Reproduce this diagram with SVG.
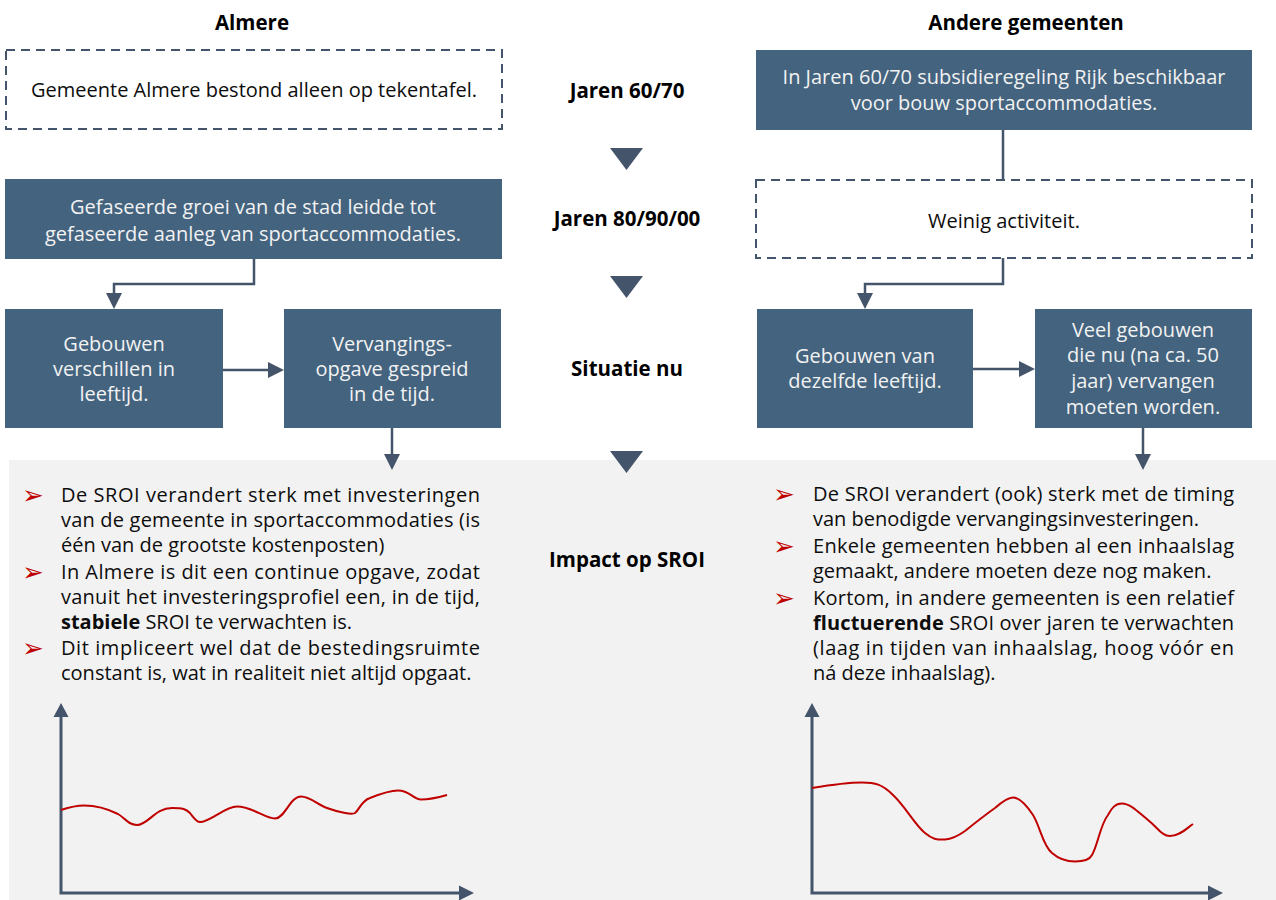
<svg xmlns="http://www.w3.org/2000/svg" width="1276" height="900" viewBox="0 0 1276 900">
<defs>
<style>
.t{font-family:"Open Sans","Noto Sans","DejaVu Sans",sans-serif;font-size:20px;fill:#0d0d0d}
.w{font-family:"Open Sans","Noto Sans","DejaVu Sans",sans-serif;font-size:20px;fill:#f2f2f2;text-anchor:middle}
.b{font-family:"Open Sans","Noto Sans","DejaVu Sans",sans-serif;font-size:20.5px;font-weight:bold;fill:#000;text-anchor:middle}
.m{text-anchor:middle}
.box{fill:#43637e}
.dash{fill:#fff;stroke:#44546a;stroke-width:2;stroke-dasharray:9 6}
.con{fill:none;stroke:#44546a;stroke-width:2.5}
.ah{fill:#44546a}
.bul{font-family:"DejaVu Sans",sans-serif;font-size:26px;fill:#c00000}
.ax{fill:none;stroke:#44546a;stroke-width:3}
.cv{fill:none;stroke:#c00000;stroke-width:2}
</style>
</defs>
<rect x="9" y="460" width="1267" height="440" fill="#f2f2f2"/>

<g id="headers">
<text class="b" x="252" y="30">Almere</text>
<text class="b" x="1026" y="30">Andere gemeenten</text>
<text class="b" x="627" y="98">Jaren 60/70</text>
<text class="b" x="627" y="226">Jaren 80/90/00</text>
<text class="b" x="627" y="376">Situatie nu</text>
<text class="b" x="627" y="567">Impact op SROI</text>
</g>

<g id="timeline-arrows">
<polygon class="ah" points="610,148 643,148 626.5,170"/>
<polygon class="ah" points="610,276 643,276 626.5,298"/>
<polygon class="ah" points="610,451 643,451 626.5,473"/>
</g>

<g id="almere-1960">
<rect class="dash" x="6" y="50" width="496" height="79"/>
<text class="t m" x="254" y="97">Gemeente Almere bestond alleen op tekentafel.</text>
</g>
<g id="andere-1960">
<rect class="box" x="756" y="50" width="496" height="80"/>
<text class="w" x="1004" y="84">In Jaren 60/70 subsidieregeling Rijk beschikbaar</text>
<text class="w" x="1004" y="110">voor bouw sportaccommodaties.</text>
</g>
<g id="almere-1980">
<rect class="box" x="5" y="179" width="497" height="80"/>
<text class="w" x="253" y="214">Gefaseerde groei van de stad leidde tot</text>
<text class="w" x="253" y="241">gefaseerde aanleg van sportaccommodaties.</text>
</g>
<g id="andere-1980">
<rect class="dash" x="756" y="180" width="496" height="78"/>
<text class="t m" x="1004" y="228">Weinig activiteit.</text>
</g>
<g id="almere-nu-1">
<rect class="box" x="5" y="309" width="218" height="119"/>
<text class="w" x="114" y="351">Gebouwen</text>
<text class="w" x="114" y="376">verschillen in</text>
<text class="w" x="114" y="401">leeftijd.</text>
</g>
<g id="almere-nu-2">
<rect class="box" x="284" y="309" width="217" height="119"/>
<text class="w" x="392" y="351">Vervangings-</text>
<text class="w" x="392" y="376">opgave gespreid</text>
<text class="w" x="392" y="401">in de tijd.</text>
</g>
<g id="andere-nu-1">
<rect class="box" x="757" y="309" width="216" height="119"/>
<text class="w" x="865" y="363">Gebouwen van</text>
<text class="w" x="865" y="388">dezelfde leeftijd.</text>
</g>
<g id="andere-nu-2">
<rect class="box" x="1035" y="309" width="217" height="119"/>
<text class="w" x="1143" y="337">Veel gebouwen</text>
<text class="w" x="1143" y="362">die nu (na ca. 50</text>
<text class="w" x="1143" y="388">jaar) vervangen</text>
<text class="w" x="1143" y="414">moeten worden.</text>
</g>

<g id="connectors">
<path class="con" d="M254,259 V284 H114 V295"/>
<polygon class="ah" points="106,293 122,293 114,309"/>
<path class="con" d="M223,370 H270"/>
<polygon class="ah" points="268,362 268,378 284,370"/>
<path class="con" d="M392,428 V456"/>
<polygon class="ah" points="384,454 400,454 392,470"/>
<path class="con" d="M1003,130 V180"/>
<path class="con" d="M1003,258 V284 H865 V295"/>
<polygon class="ah" points="857,293 873,293 865,309"/>
<path class="con" d="M973,369 H1021"/>
<polygon class="ah" points="1019,361 1019,377 1035,369"/>
<path class="con" d="M1143,428 V456"/>
<polygon class="ah" points="1135,454 1151,454 1143,470"/>
</g>

<g id="almere-impact">
<text class="bul" x="22" y="504">➢</text>
<text class="bul" x="22" y="581">➢</text>
<text class="bul" x="22" y="657">➢</text>
<text class="t" x="61" y="502" textLength="419" lengthAdjust="spacing">De SROI verandert sterk met investeringen</text>
<text class="t" x="61" y="527" textLength="419" lengthAdjust="spacing">van de gemeente in sportaccommodaties (is</text>
<text class="t" x="61" y="552">één van de grootste kostenposten)</text>
<text class="t" x="61" y="579" textLength="419" lengthAdjust="spacing">In Almere is dit een continue opgave, zodat</text>
<text class="t" x="61" y="604" textLength="419" lengthAdjust="spacing">vanuit het investeringsprofiel een, in de tijd,</text>
<text class="t" x="61" y="629"><tspan font-weight="bold">stabiele</tspan> SROI te verwachten is.</text>
<text class="t" x="61" y="655" textLength="419" lengthAdjust="spacing">Dit impliceert wel dat de bestedingsruimte</text>
<text class="t" x="61" y="680">constant is, wat in realiteit niet altijd opgaat.</text>
</g>

<g id="andere-impact">
<text class="bul" x="773" y="503">➢</text>
<text class="bul" x="773" y="555">➢</text>
<text class="bul" x="773" y="607">➢</text>
<text class="t" x="813" y="501" textLength="421" lengthAdjust="spacing">De SROI verandert (ook) sterk met de timing</text>
<text class="t" x="813" y="526">van benodigde vervangingsinvesteringen.</text>
<text class="t" x="813" y="553" textLength="421" lengthAdjust="spacing">Enkele gemeenten hebben al een inhaalslag</text>
<text class="t" x="813" y="578">gemaakt, andere moeten deze nog maken.</text>
<text class="t" x="813" y="605" textLength="421" lengthAdjust="spacing">Kortom, in andere gemeenten is een relatief</text>
<text class="t" x="813" y="630" textLength="421" lengthAdjust="spacing"><tspan font-weight="bold">fluctuerende</tspan> SROI over jaren te verwachten</text>
<text class="t" x="813" y="655" textLength="421" lengthAdjust="spacing">(laag in tijden van inhaalslag, hoog vóór en</text>
<text class="t" x="813" y="680">ná deze inhaalslag).</text>
</g>

<g id="almere-chart">
<path class="ax" d="M61,716 V893 H460"/>
<polygon class="ah" points="61,703 53.5,717 68.5,717"/>
<polygon class="ah" points="474,893 459,885.5 459,900.5"/>
<path class="cv" d="M61,810 C70,807 76,805.5 84,805.5 C96,805.5 110,810 118,814 C125,818 128,825 137,825 C148,825 155,808 172,808 C183,808 186,809 190,813 C194,818 196,822 200,822 C210,822 225,806.5 237,806.5 C252,806.5 265,818.5 275,818.5 C285,818.5 290,796.5 301,796.5 C310,796.5 318,805 327,808 C338,812 352,815 355,813 C360,809 361,801 370,798 C380,794 390,790.5 398,790.5 C410,790.5 413,799.5 421,799.5 C430,799.5 440,797 447,795"/>
</g>

<g id="andere-chart">
<path class="ax" d="M812,716 V893 H1209"/>
<polygon class="ah" points="812,703 804.5,717 819.5,717"/>
<polygon class="ah" points="1223,893 1208,885.5 1208,900.5"/>
<path class="cv" d="M812,788 C830,785 850,782.5 862,782.5 C875,782.5 882,784 893,795 C905,806 915,825 925,833 C932,839 937,840 945,839.5 C952,839 958,836 965,831 C975,823 985,815 995,808 C1003,801 1008,797.5 1013,797.5 C1020,797.5 1027,806 1033,815 C1040,826 1043,846 1052,853 C1060,860 1070,861.5 1075,861.5 C1085,861.5 1090,859 1092,855 C1098,845 1100,825 1108,815 C1112,808 1115,803.5 1122,803.5 C1130,803.5 1138,812 1148,820 C1158,828 1162,836 1170,836 C1180,836 1187,828 1193,824"/>
</g>
</svg>
